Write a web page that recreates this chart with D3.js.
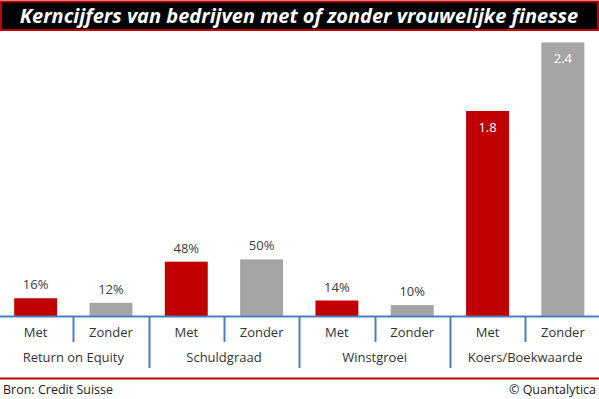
<!DOCTYPE html>
<html>
<head>
<meta charset="utf-8">
<script src="https://cdn.jsdelivr.net/npm/d3@7"></script>
<style>
  html, body { margin: 0; padding: 0; background: #fff; }
  svg { display: block; font-family: "Open Sans", sans-serif; }
</style>
</head>
<body>
<div id="chart"></div>
<script>
// data
var groups = ['Return on Equity', 'Schuldgraad', 'Winstgroei', 'Koers/Boekwaarde'];
var subs = ['Met', 'Zonder'];
var metValues = [0.16, 0.48, 0.14, 1.8];
var zonderValues = [0.12, 0.50, 0.10, 2.4];
var valueLabels = ['16%', '12%', '48%', '50%', '14%', '10%', '1.8', '2.4'];
var insideLabel = [false, false, false, false, false, false, true, true];

var width = 599, height = 399;
var red = '#c00000', grey = '#a5a5a5', blue = '#4a7ebb';

var data = [];
groups.forEach(function(g, i) {
  data.push({ group: g, sub: 'Met', value: metValues[i] });
  data.push({ group: g, sub: 'Zonder', value: zonderValues[i] });
});
data.forEach(function(d, i) {
  d.key = i;
  d.label = valueLabels[i];
  d.inside = insideLabel[i];
});

var svg = d3.select('#chart').append('svg')
  .attr('width', width)
  .attr('height', height);

// title bar
svg.append('rect')
  .attr('x', 1).attr('y', 1.5)
  .attr('width', 597).attr('height', 28.5)
  .attr('fill', '#000')
  .attr('stroke', red)
  .attr('stroke-width', 2);

svg.append('text')
  .attr('x', 299).attr('y', 23)
  .attr('text-anchor', 'middle')
  .attr('fill', '#fff')
  .style('font-size', '20px')
  .style('font-weight', 'bold')
  .style('font-style', 'italic')
  .text('Kerncijfers van bedrijven met of zonder vrouwelijke finesse');

var axisY = 316.5;

var x = d3.scaleBand()
  .domain(data.map(d => d.key))
  .range([-2, 600.5])
  .paddingInner(0.43)
  .paddingOuter(0.215);

var y = d3.scaleLinear()
  .domain([0, 2.5])
  .range([axisY, 31]);

// bars
svg.selectAll('.bar')
  .data(data)
  .enter()
    .append('rect')
    .attr('class', 'bar')
    .attr('x', d => x(d.key))
    .attr('y', d => y(d.value))
    .attr('width', x.bandwidth())
    .attr('height', d => axisY - y(d.value))
    .attr('fill', d => d.sub === 'Met' ? red : grey);

// value labels
svg.selectAll('.val')
  .data(data)
  .enter()
    .append('text')
    .attr('class', 'val')
    .attr('x', d => x(d.key) + x.bandwidth() / 2)
    .attr('y', d => d.inside ? y(d.value) + 21 : y(d.value) - 9)
    .attr('text-anchor', 'middle')
    .attr('fill', d => d.inside ? '#fff' : '#404040')
    .style('font-size', '13px')
    .text(d => d.label);

// category axis
var step = x.step();
var x0 = -2;

svg.append('line')
  .attr('x1', 0).attr('x2', width)
  .attr('y1', axisY).attr('y2', axisY)
  .attr('stroke', blue)
  .attr('stroke-width', 2);

// small ticks between Met / Zonder, long ones between groups
var ticks = d3.range(1, data.length);
svg.selectAll('.tick')
  .data(ticks)
  .enter()
    .append('line')
    .attr('class', 'tick')
    .attr('x1', i => Math.round(x0 + i * step) + 0.5)
    .attr('x2', i => Math.round(x0 + i * step) + 0.5)
    .attr('y1', axisY)
    .attr('y2', i => i % 2 === 0 ? 368 : 342)
    .attr('stroke', blue)
    .attr('stroke-width', 2);

svg.selectAll('.sublabel')
  .data(data)
  .enter()
    .append('text')
    .attr('class', 'sublabel')
    .attr('x', d => x(d.key) + x.bandwidth() / 2)
    .attr('y', 337)
    .attr('text-anchor', 'middle')
    .attr('fill', '#333')
    .style('font-size', '13px')
    .text(d => d.sub);

svg.selectAll('.grouplabel')
  .data(groups)
  .enter()
    .append('text')
    .attr('class', 'grouplabel')
    .attr('x', (g, i) => x0 + (2 * i + 1) * step)
    .attr('y', 362)
    .attr('text-anchor', 'middle')
    .attr('fill', '#333')
    .style('font-size', '13px')
    .text(g => g);

// footer
svg.append('line')
  .attr('x1', 0).attr('x2', width)
  .attr('y1', 378.5).attr('y2', 378.5)
  .attr('stroke', red)
  .attr('stroke-width', 2);

svg.append('text')
  .attr('x', 3).attr('y', 394)
  .attr('fill', '#222')
  .style('font-size', '12.5px')
  .text('Bron: Credit Suisse');

svg.append('text')
  .attr('x', 596).attr('y', 394)
  .attr('text-anchor', 'end')
  .attr('fill', '#222')
  .style('font-size', '12.5px')
  .text('© Quantalytica');
</script>
</body>
</html>
